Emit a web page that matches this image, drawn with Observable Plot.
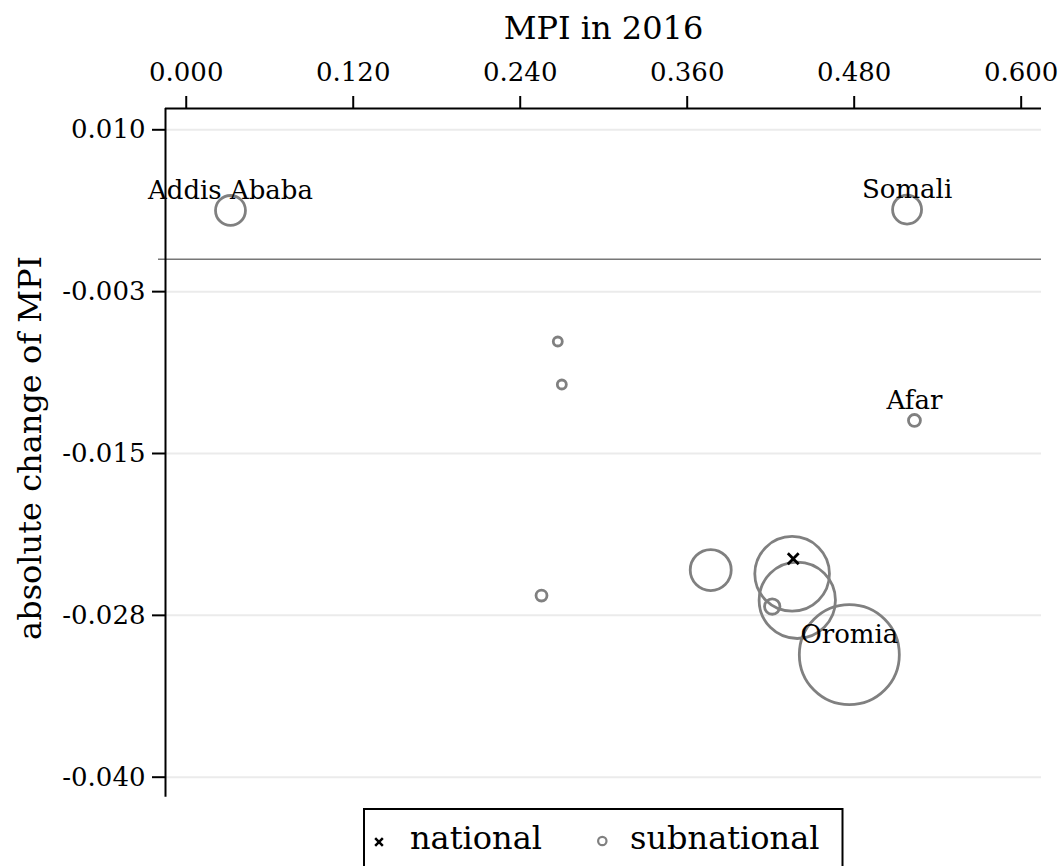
<!DOCTYPE html>
<html>
<head>
<meta charset="utf-8">
<script src="https://cdn.jsdelivr.net/npm/d3@7"></script>
<script src="https://cdn.jsdelivr.net/npm/@observablehq/plot@0.6"></script>
<style>
  html, body { margin: 0; padding: 0; background: #fff; }
  #chart svg { display: block; }
</style>
</head>
<body>
<div id="chart"></div>
<div id="legend"></div>
<script>
// ---- data ----
const regions = ["Addis Ababa", "Somali", "Harari", "Dire Dawa", "Afar", "Gambella", "Tigray", "Amhara", "SNNP", "Benishangul-Gumuz", "Oromia"];
const mpi2016 = [0.0318, 0.5180, 0.2670, 0.2699, 0.5233, 0.2553, 0.3769, 0.4354, 0.4391, 0.4211, 0.4765];
const changeMPI = [0.00377, 0.00384, -0.00635, -0.00967, -0.01245, -0.02597, -0.0240, -0.02429, -0.02634, -0.02682, -0.03054];
const population = [3.2, 3.0, 0.29, 0.29, 0.51, 0.43, 6.0, 19.9, 20.8, 0.85, 35.7];
const labelled = ["Addis Ababa", "Somali", "Afar", "Oromia"];

const nationalMPI = [0.4362];
const nationalChange = [-0.02313];

const xTicks = [0.0, 0.12, 0.24, 0.36, 0.48, 0.60];
const xTickLabels = ["0.000", "0.120", "0.240", "0.360", "0.480", "0.600"];
const yTicks = [0.010, -0.0025, -0.015, -0.0275, -0.040];
const yTickLabels = ["0.010", "-0.003", "-0.015", "-0.028", "-0.040"];

const xTitle = "MPI in 2016";
const yTitle = "absolute change of MPI";
const legendLabels = ["national", "subnational"];

// ---- build tables ----
const sub = regions.map((name, i) => ({name, x: mpi2016[i], y: changeMPI[i], pop: population[i]}));
const nat = nationalMPI.map((x, i) => ({x, y: nationalChange[i]}));
const labels = sub.filter(d => labelled.includes(d.name));

const xDomain = [-0.0149, 0.6146];
const yDomain = [-0.041545, 0.011645];
const font = "DejaVu Serif";

const chart = Plot.plot({
  width: 1062,
  height: 800,
  marginLeft: 165,
  marginRight: 21,
  marginTop: 108,
  marginBottom: 3.3,
  style: {fontFamily: font, fontSize: "26px", background: "#fff", color: "#000"},
  x: {domain: xDomain},
  y: {domain: yDomain},
  r: {domain: [0, 35.7], range: [0, 50]},
  marks: [
    Plot.gridY(yTicks, {stroke: "#ebebeb", strokeOpacity: 1, strokeWidth: 2}),
    Plot.ruleY([0], {stroke: "#777", strokeWidth: 1.5, insetLeft: -7}),
    Plot.axisX(xTicks, {
      anchor: "top", label: null, tickSize: 13, tickPadding: 15,
      tickFormat: (d) => xTickLabels[xTicks.indexOf(d)],
      stroke: "#000", strokeWidth: 2, fontSize: 26
    }),
    Plot.axisY(yTicks, {
      anchor: "left", label: null, tickSize: 13, tickPadding: 7,
      tickFormat: (d) => yTickLabels[yTicks.indexOf(d)],
      stroke: "#000", strokeWidth: 2, fontSize: 26
    }),
    // frame lines: top (x axis) and left (y axis)
    Plot.ruleY([yDomain[1]], {stroke: "#000", strokeWidth: 2}),
    Plot.ruleX([xDomain[0]], {stroke: "#000", strokeWidth: 2}),
    Plot.text([xTitle], {frameAnchor: "top", dy: -92, fontSize: 32, fill: "#000"}),
    Plot.text([yTitle], {frameAnchor: "left", textAnchor: "middle", dx: -135, dy: -5, rotate: -90, fontSize: 32, fill: "#000"}),
    Plot.dot(sub, {x: "x", y: "y", r: "pop", stroke: "#808080", strokeWidth: 2.8, fill: "none"}),
    Plot.dot(nat, {x: "x", y: "y", symbol: "times", r: 5, stroke: "#000", strokeWidth: 2.8}),
    Plot.text(labels, {x: "x", y: "y", text: "name", dy: -20, fontSize: 26, fill: "#000"})
  ]
});
document.getElementById("chart").appendChild(chart);

// ---- legend (below the chart) ----
const ns = "http://www.w3.org/2000/svg";
const lg = d3.select("#legend").append("svg")
  .attr("xmlns", ns)
  .attr("width", 1062).attr("height", 66)
  .style("display", "block")
  .style("font-family", font);
lg.append("rect").attr("x", 364).attr("y", 9).attr("width", 478.5).attr("height", 80)
  .attr("fill", "none").attr("stroke", "#000").attr("stroke-width", 2);
lg.append("path").attr("d", d3.symbol(d3.symbolTimes, 40)())
  .attr("transform", "translate(379,42)")
  .attr("stroke", "#000").attr("stroke-width", 2.5).attr("fill", "none");
lg.append("text").attr("x", 410).attr("y", 49.3).attr("font-size", 32).text(legendLabels[0]);
lg.append("circle").attr("cx", 602.3).attr("cy", 41).attr("r", 4.2)
  .attr("stroke", "#808080").attr("stroke-width", 2.2).attr("fill", "none");
lg.append("text").attr("x", 630).attr("y", 49.3).attr("font-size", 32).text(legendLabels[1]);
</script>
</body>
</html>
